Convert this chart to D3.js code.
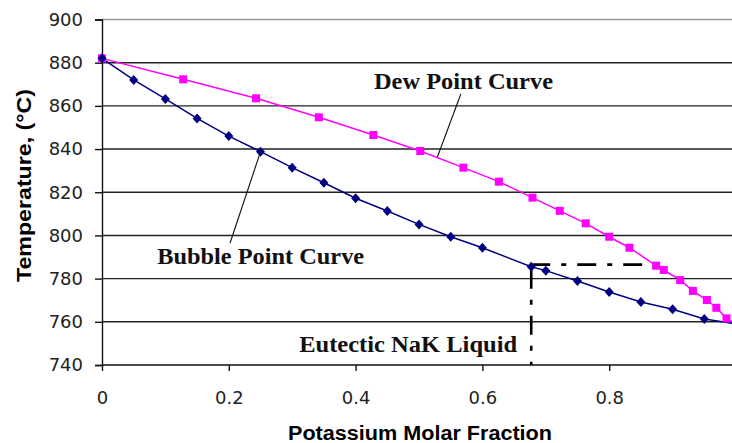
<!DOCTYPE html>
<html>
<head>
<meta charset="utf-8">
<script src="https://cdn.jsdelivr.net/npm/d3@7/dist/d3.min.js"></script>
<style>
  html, body { margin: 0; padding: 0; background: #fff; }
  svg { display: block; }
</style>
</head>
<body>
<div id="chart"></div>
<script>
// Bubble point curve (liquid), navy diamonds
const bubbleX = [0, 0.05, 0.1, 0.15, 0.2, 0.25, 0.3, 0.35, 0.4, 0.45, 0.5, 0.55, 0.6, 0.677, 0.7, 0.75, 0.8, 0.85, 0.9, 0.95, 1.0];
const bubbleT = [882, 872, 863.2, 854.2, 846, 838.8, 831.4, 824.4, 817.2, 811.3, 805.1, 799.4, 794.3, 785.5, 783.7, 778.9, 773.8, 769.2, 765.8, 761.3, 759];

// Dew point curve (vapour), magenta squares
const dewX = [0, 0.128, 0.243, 0.342, 0.428, 0.502, 0.57, 0.626, 0.679, 0.722, 0.763, 0.8, 0.832, 0.874, 0.886, 0.912, 0.932, 0.954, 0.969, 0.985, 1.0];
const dewT = [882, 872.3, 863.5, 854.7, 846.5, 839.1, 831.4, 824.9, 817.5, 811.4, 805.6, 799.4, 794.3, 786, 784, 779.3, 774.3, 770.1, 766.5, 761.6, 759];

// Axis ticks
const xTicks = [0, 0.2, 0.4, 0.6, 0.8];
const yTicks = [740, 760, 780, 800, 820, 840, 860, 880, 900];

// Eutectic NaK marker
const eutecticX = 0.677;
const eutecticT = 786;
const eutecticEndX = 0.852;

const w = 732;
const h = 443;
const margin = ({ top: 19.5, left: 102, bottom: 78 });

const svg = d3.select('#chart')
  .append('svg')
  .attr('width', w)
  .attr('height', h)
  .attr('viewBox', `0 0 ${w} ${h}`);

// Set up scales (x axis runs a little past the right edge, as in the original crop)
const xScale = d3.scaleLinear()
  .domain([0, 1])
  .range([margin.left, margin.left + 634]);

const yScale = d3.scaleLinear()
  .domain([740, 900])
  .range([h - margin.bottom, margin.top]);

// Gridlines
svg.append('g')
  .selectAll('line')
  .data(yTicks.filter(t => t > 740))
  .enter()
  .append('line')
  .attr('x1', margin.left)
  .attr('x2', w)
  .attr('y1', d => yScale(d))
  .attr('y2', d => yScale(d))
  .attr('stroke', d => d === 900 ? '#9a9a9a' : '#222')
  .attr('stroke-width', 1.4);

// Axes
const xAxis = d3.axisBottom(xScale)
  .tickValues(xTicks)
  .tickFormat(d => d === 0 ? '0' : d3.format('.1f')(d))
  .tickSize(6)
  .tickPadding(20);

const yAxis = d3.axisLeft(yScale)
  .tickValues(yTicks)
  .tickFormat(d3.format('d'))
  .tickSize(7)
  .tickPadding(12);

const gx = svg.append('g')
  .classed('x-axis', true)
  .attr('transform', `translate(0, ${yScale(740)})`)
  .call(xAxis);

gx.select('.domain')
  .attr('d', `M${margin.left},0H${w}`);

const gy = svg.append('g')
  .classed('y-axis', true)
  .attr('transform', `translate(${margin.left}, 0)`)
  .call(yAxis);

svg.selectAll('.domain, .tick line')
  .attr('stroke', '#111')
  .attr('stroke-width', 1.4);

svg.selectAll('.tick text')
  .attr('fill', '#222')
  .attr('font-family', 'DejaVu Sans, sans-serif')
  .attr('font-size', 18);

// Axis titles
svg.append('text')
  .attr('x', (margin.left + w) / 2 + 3)
  .attr('y', 440)
  .attr('text-anchor', 'middle')
  .attr('font-family', 'Liberation Sans, Arial, sans-serif')
  .attr('font-weight', 'bold')
  .attr('font-size', 20)
  .attr('textLength', 264)
  .attr('lengthAdjust', 'spacingAndGlyphs')
  .text('Potassium Molar Fraction');

svg.append('text')
  .attr('transform', `translate(31, 185.5) rotate(-90)`)
  .attr('text-anchor', 'middle')
  .attr('font-family', 'Liberation Sans, Arial, sans-serif')
  .attr('font-weight', 'bold')
  .attr('font-size', 20)
  .attr('textLength', 193)
  .attr('lengthAdjust', 'spacingAndGlyphs')
  .text('Temperature, (°C)');

// Eutectic dash-dot guide lines
const eut = svg.append('g')
  .attr('stroke', '#000')
  .attr('stroke-width', 2.6)
  .attr('stroke-dasharray', '19,11,5,11')
  .attr('fill', 'none');

eut.append('line')
  .attr('x1', xScale(eutecticX))
  .attr('x2', xScale(eutecticEndX))
  .attr('y1', yScale(eutecticT) - 1)
  .attr('y2', yScale(eutecticT) - 1);

eut.append('line')
  .attr('x1', xScale(eutecticX))
  .attr('x2', xScale(eutecticX))
  .attr('y1', yScale(eutecticT) + 4)
  .attr('y2', yScale(740));

// Curves
const line = d3.line()
  .x(d => xScale(d[0]))
  .y(d => yScale(d[1]));

const bubble = bubbleX.map((x, i) => [x, bubbleT[i]]);
const dew = dewX.map((x, i) => [x, dewT[i]]);

svg.append('path')
  .datum(dew)
  .attr('d', line)
  .attr('fill', 'none')
  .attr('stroke', '#ff00ff')
  .attr('stroke-width', 1.5);

svg.append('path')
  .datum(bubble)
  .attr('d', line)
  .attr('fill', 'none')
  .attr('stroke', '#000080')
  .attr('stroke-width', 1.5);

svg.append('g')
  .selectAll('rect')
  .data(dew)
  .enter()
  .append('rect')
  .attr('x', d => xScale(d[0]) - 4)
  .attr('y', d => yScale(d[1]) - 4)
  .attr('width', 8)
  .attr('height', 8)
  .attr('fill', '#ff00ff');

svg.append('g')
  .selectAll('path')
  .data(bubble)
  .enter()
  .append('path')
  .attr('transform', d => `translate(${xScale(d[0])}, ${yScale(d[1])})`)
  .attr('d', 'M0,-5L4.5,0L0,5L-4.5,0Z')
  .attr('fill', '#000080');

// Annotations
const labels = [
  { text: 'Dew Point Curve', x: 0.429, t: 867.7, len: 179, from: [0.566, 865.5], to: [0.529, 836.3] },
  { text: 'Bubble Point Curve', x: 0.087, t: 786.8, len: 207, from: [0.202, 796.5], to: [0.25, 838.8] },
  { text: 'Eutectic NaK Liquid', x: 0.311, t: 746, len: 218 }
];

labels.forEach(l => {
  svg.append('text')
    .attr('x', xScale(l.x))
    .attr('y', yScale(l.t))
    .attr('font-family', 'Liberation Serif, Times New Roman, serif')
    .attr('font-weight', 'bold')
    .attr('font-size', 23)
    .attr('fill', '#111')
    .attr('textLength', l.len)
    .attr('lengthAdjust', 'spacingAndGlyphs')
    .text(l.text);
  if (l.from) {
    svg.append('line')
      .attr('x1', xScale(l.from[0]))
      .attr('y1', yScale(l.from[1]))
      .attr('x2', xScale(l.to[0]))
      .attr('y2', yScale(l.to[1]))
      .attr('stroke', '#111')
      .attr('stroke-width', 1.1);
  }
});
</script>
</body>
</html>
